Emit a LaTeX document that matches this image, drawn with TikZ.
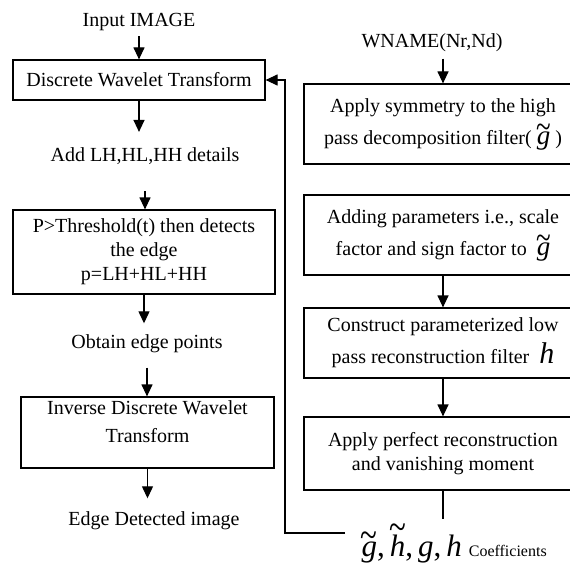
\documentclass[tikz,border=0pt]{standalone}
\usepackage{fix-cm}
\usepackage{fontspec}
\setmainfont{Liberation Serif}
\usetikzlibrary{arrows.meta}
\newcommand{\tildeon}[2][0.24em]{\leavevmode\ooalign{#2\cr\hidewidth\raisebox{#1}{\scalebox{1.0}[1.3]{\char"7E}}\hidewidth\cr}}
\newcommand{\tlg}{{\fontsize{27}{28}\selectfont\tildeon{\textit{g}}}}
\newcommand{\tlh}{{\fontsize{30}{28}\selectfont\textit{h}}}
\begin{document}
\begin{tikzpicture}[x=1pt,y=-1pt,line width=1.2pt,
  txt/.style={inner sep=0pt,align=center,font=\fontsize{20}{24}\selectfont},
  box/.style={draw,inner sep=0pt,align=center,font=\fontsize{20}{24}\selectfont},
  arr/.style={-{Triangle[width=11pt,length=12pt]}}]
\useasboundingbox (0,0) rectangle (570,567);
% left column
\node[txt] (input) at (139,22) {Input IMAGE};
\node[box,minimum width=252pt,minimum height=40pt] (dwt) at (139,80) {Discrete Wavelet Transform};
\node[txt] (add) at (145,156) {Add LH,HL,HH details};
\node[box,minimum width=262pt,minimum height=84pt] (thr) at (144,252) {P>Threshold(t) then detects\\the edge\\p=LH+HL+HH};
\node[txt] (obt) at (147,344) {Obtain edge points};
\node[box,minimum width=253pt,minimum height=71pt] (idwt) at (147.5,432.5) {Inverse Discrete Wavelet\\[4pt]Transform\\[-2pt]};
\node[txt] (edge) at (154,521) {Edge Detected image};
% right column
\node[txt] (wname) at (432,43) {WNAME(Nr,Nd)};
\node[box,minimum width=278pt,minimum height=80pt] (b1) at (443,124) {Apply symmetry to the high\\[8pt]pass decomposition filter( \tlg{} )};
\node[box,minimum width=278pt,minimum height=80pt] (b2) at (443,235) {Adding parameters i.e., scale\\[8pt]factor and sign factor to \ \tlg};
\node[box,minimum width=278pt,minimum height=70pt] (b3) at (443,343) {Construct parameterized low\\[6pt]pass reconstruction filter \ \tlh};
\node[box,minimum width=278pt,minimum height=73pt] (b4) at (443,453.5) {Apply perfect reconstruction\\and vanishing moment};
\node[inner sep=0pt,anchor=base west] (coef) at (361,556) {{\fontsize{31}{32}\selectfont\tildeon{\textit{g}},\kern5pt\tildeon[0.5em]{\textit{h}},\kern5pt\textit{g},\kern5pt\textit{h}}\kern7pt{\fontsize{16}{18}\selectfont Coefficients}};
\coordinate (b4end) at (443,519);
\coordinate (fbstart) at (345,533);
% connectors
\draw[arr,shorten <=5pt] (input.south) -- (input.south |- dwt.north);
\draw[arr,shorten >=15pt] (dwt.south) -- (dwt.south |- add.north);
\draw[arr,shorten <=26pt] (add.south) -- (add.south |- thr.north);
\draw[arr,shorten >=11pt] (thr.south) -- (thr.south |- obt.north);
\draw[arr,shorten <=14pt] (obt.south) -- (obt.south |- idwt.north);
\draw[arr,shorten >=13pt] (idwt.south) -- (idwt.south |- edge.north);
\draw[arr,shorten <=6pt] (b1.north |- wname.south) -- (b1.north);
\draw[arr] (b2) -- (b3);
\draw[arr] (b3) -- (b4);
\draw (b4) -- (b4end);
\draw[arr] (fbstart) -- ++(-60,0) |- (dwt.east);
\end{tikzpicture}
\end{document}
